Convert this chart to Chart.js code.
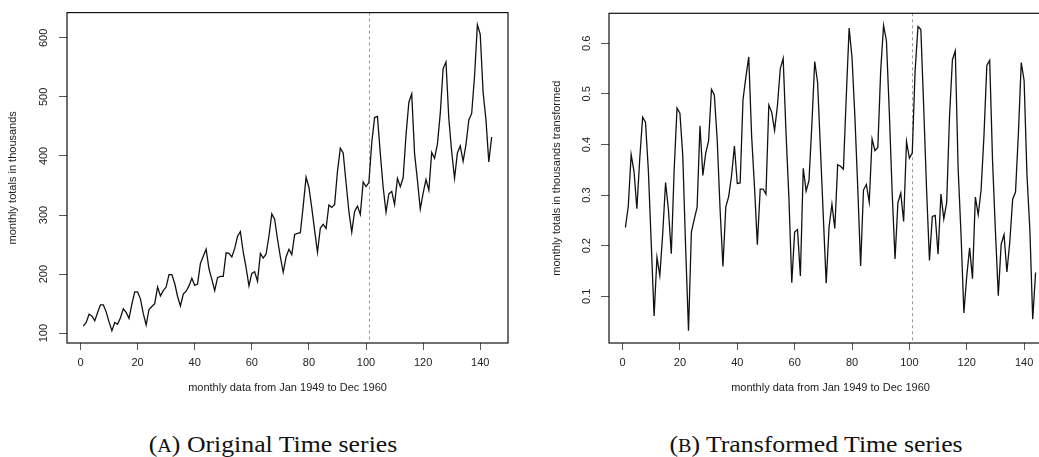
<!DOCTYPE html>
<html>
<head>
<meta charset="utf-8">
<script src="https://cdn.jsdelivr.net/npm/chart.js@4.4.1/dist/chart.umd.min.js"></script>
<style>
  html, body { margin: 0; padding: 0; background: #fff; overflow: hidden; width: 1039px; height: 457px; }
  #wrap { position: relative; width: 1039px; height: 457px; overflow: hidden; }
  canvas { position: absolute; top: 0; }
  .cap { position: absolute; top: 432.7px; font-family: "Liberation Serif", "DejaVu Serif", serif; font-size: 23px; line-height: 23px; color: #111; white-space: nowrap; transform: translateX(-50%) scaleX(1.12); transform-origin: 50% 50%; }
  .sc { font-size: 0.78em; }
</style>
</head>
<body>
<div id="wrap">
  <canvas id="c1" width="520" height="400" style="left:0px"></canvas>
  <canvas id="c2" width="545" height="400" style="left:520px"></canvas>
  <div class="cap" style="left:273px">(<span class="sc">A</span>) Original Time series</div>
  <div class="cap" style="left:816px">(<span class="sc">B</span>) Transformed Time series</div>
</div>
<script>
// ---- data ----
// monthly airline passengers (thousands), Jan 1949 .. Dec 1960
const passengers = [
  112, 118, 132, 129, 121, 135, 148, 148, 136, 119, 104, 118,
  115, 126, 141, 135, 125, 149, 170, 170, 158, 133, 114, 140,
  145, 150, 178, 163, 172, 178, 199, 199, 184, 162, 146, 166,
  171, 180, 193, 181, 183, 218, 230, 242, 209, 191, 172, 194,
  196, 196, 236, 235, 229, 243, 264, 272, 237, 211, 180, 201,
  204, 188, 235, 227, 234, 264, 302, 293, 259, 229, 203, 229,
  242, 233, 267, 269, 270, 315, 364, 347, 312, 274, 237, 278,
  284, 277, 317, 313, 318, 374, 413, 405, 355, 306, 271, 306,
  315, 301, 356, 348, 355, 422, 465, 467, 404, 347, 305, 336,
  340, 318, 362, 348, 363, 435, 491, 505, 404, 359, 310, 337,
  360, 342, 406, 396, 420, 472, 548, 559, 463, 407, 362, 405,
  417, 391, 419, 461, 472, 535, 622, 606, 508, 461, 390, 432
];
// transformed series
const transformed = [
  0.236, 0.278, 0.380, 0.347, 0.273, 0.372, 0.454, 0.444, 0.349, 0.206, 0.061, 0.177,
  0.141, 0.223, 0.325, 0.271, 0.184, 0.350, 0.472, 0.462, 0.378, 0.196, 0.032, 0.227,
  0.252, 0.276, 0.437, 0.339, 0.383, 0.407, 0.509, 0.498, 0.410, 0.273, 0.159, 0.277,
  0.297, 0.338, 0.397, 0.323, 0.324, 0.489, 0.533, 0.573, 0.417, 0.317, 0.202, 0.312,
  0.312, 0.302, 0.478, 0.464, 0.428, 0.477, 0.550, 0.570, 0.422, 0.295, 0.127, 0.227,
  0.232, 0.140, 0.353, 0.308, 0.329, 0.439, 0.564, 0.523, 0.390, 0.257, 0.126, 0.237,
  0.282, 0.234, 0.360, 0.357, 0.351, 0.495, 0.630, 0.572, 0.455, 0.315, 0.160, 0.310,
  0.321, 0.286, 0.411, 0.388, 0.394, 0.546, 0.635, 0.605, 0.464, 0.305, 0.174, 0.285,
  0.304, 0.248, 0.406, 0.373, 0.383, 0.546, 0.633, 0.627, 0.472, 0.310, 0.171, 0.258,
  0.260, 0.183, 0.302, 0.253, 0.285, 0.456, 0.567, 0.585, 0.352, 0.223, 0.067, 0.140,
  0.196, 0.135, 0.296, 0.261, 0.310, 0.417, 0.556, 0.566, 0.367, 0.228, 0.101, 0.203,
  0.222, 0.148, 0.207, 0.292, 0.306, 0.421, 0.562, 0.526, 0.339, 0.232, 0.055, 0.147
];
const months = passengers.map((_, i) => i + 1);   // 1 .. 144
const xTickValues = [0, 20, 40, 60, 80, 100, 120, 140];
const yTicksA = [100, 200, 300, 400, 500, 600];
const yTicksB = [0.1, 0.2, 0.3, 0.4, 0.5, 0.6];
const splitMonth = 101;
const xTitle = 'monthly data from Jan 1949 to Dec 1960';
const yTitleA = 'monthly totals in thousands';
const yTitleB = 'monthly totals in thousands transformed';

// ---- drawing ----
const FONT = { family: '"Liberation Sans", Arial, Helvetica, sans-serif', size: 11 };
const TXT = '#222';

const framePlugin = {
  id: 'frame',
  beforeDatasetsDraw(chart) {
    const { ctx, chartArea: a, scales } = chart;
    const px = scales.x.getPixelForValue(splitMonth);
    ctx.save();
    ctx.strokeStyle = '#9a9a9a';
    ctx.lineWidth = 1;
    ctx.setLineDash([3, 3]);
    ctx.beginPath();
    ctx.moveTo(Math.round(px) + 0.5, a.top);
    ctx.lineTo(Math.round(px) + 0.5, a.bottom);
    ctx.stroke();
    ctx.restore();
  },
  afterDraw(chart) {
    const { ctx, chartArea: a } = chart;
    ctx.save();
    ctx.strokeStyle = '#111';
    ctx.lineWidth = 1.2;
    ctx.strokeRect(a.left, a.top, a.right - a.left, a.bottom - a.top);
    ctx.restore();
  }
};

function makeChart(id, values, yMin, yMax, yTicks, yTitle, opts) {
  return new Chart(document.getElementById(id), {
    type: 'line',
    data: {
      labels: months,
      datasets: [{
        data: values,
        borderColor: '#111',
        borderWidth: 1.3,
        pointRadius: 0,
        tension: 0,
        fill: false
      }]
    },
    options: {
      responsive: false,
      animation: false,
      events: [],
      layout: { padding: { left: 0, top: 10, right: opts.right, bottom: 0 } },
      plugins: { legend: { display: false }, tooltip: { enabled: false } },
      scales: {
        x: {
          type: 'linear',
          min: -4.72,
          max: 149.72,
          afterBuildTicks: s => { s.ticks = xTickValues.map(v => ({ value: v })); },
          afterFit: s => { s.height = 57; },
          grid: { drawOnChartArea: false, drawTicks: true, tickLength: 7, color: '#555' },
          border: { display: false },
          ticks: { font: FONT, color: TXT, padding: 6, maxRotation: 0, autoSkip: false },
          title: { display: true, text: xTitle, font: FONT, color: TXT, padding: { top: 0, bottom: 5.5 } }
        },
        y: {
          type: 'linear',
          min: yMin,
          max: yMax,
          afterBuildTicks: s => { s.ticks = yTicks.map(v => ({ value: v })); },
          afterFit: s => { s.width = opts.yWidth; },
          grid: { drawOnChartArea: false, drawTicks: true, tickLength: 8, color: '#555' },
          border: { display: false },
          ticks: { font: FONT, color: TXT, padding: opts.tickPad, minRotation: 90, maxRotation: 90, crossAlign: 'center', autoSkip: false },
          title: { display: true, text: yTitle, font: FONT, color: TXT, padding: { top: opts.titlePad, bottom: 0 } }
        }
      }
    },
    plugins: [framePlugin]
  });
}

makeChart('c1', passengers, 83.28, 642.72, yTicksA, yTitleA, { right: 12, yWidth: 67, tickPad: 6, titlePad: 6.4 });
makeChart('c2', transformed, 0.0078, 0.6592, yTicksB, yTitleB, { right: 13, yWidth: 89, tickPad: 6.7, titlePad: 30.4 });
</script>
</body>
</html>
